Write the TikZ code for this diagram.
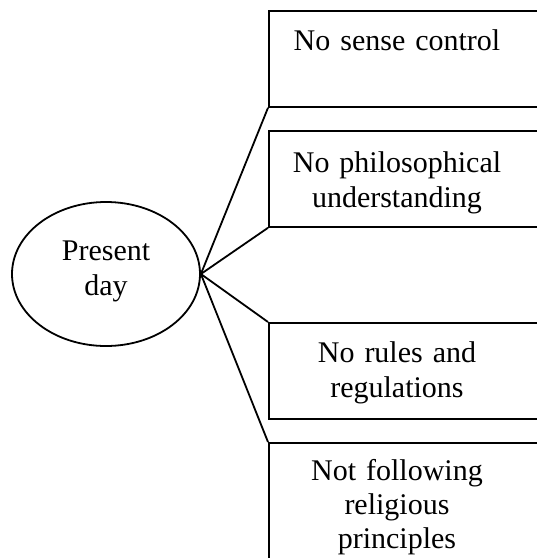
\documentclass[tikz,border=0pt]{standalone}
\usepackage{fontspec}
\setmainfont{Liberation Serif}
\usetikzlibrary{shapes.geometric}
\begin{document}
\begin{tikzpicture}[x=1pt,y=-1pt,line width=1.8pt,
  item/.style={draw,rectangle,minimum width=290pt,minimum height=96pt,
    anchor=north west,inner sep=0pt},
  txt/.style={font=\fontsize{30}{35}\selectfont,align=center,
    text width=260pt,anchor=base,inner sep=0pt}]
  \clip (0,0) rectangle (537,558);
  % central topic
  \node[draw,ellipse,minimum width=188pt,minimum height=144pt,inner sep=0pt]
    (pd) at (106,274) {};
  \node[txt] (pdt) at (106,260) {Present\\day};
  % the four boxes
  \node[item] (b1) at (268,10) {};
  \node[item] (b2) at (268,130) {};
  \node[item] (b3) at (268,322) {};
  \node[item,minimum height=140pt] (b4) at (268,442) {};
  \node[txt] (t1) at (397,50) {No sense control};
  \node[txt] (t2) at (397,172) {No philosophical\\understanding};
  \node[txt] (t3) at (397,362) {No rules and\\regulations};
  \node[txt,font=\fontsize{30}{34}\selectfont] (t4) at (397,480)
    {Not following\\religious\\principles};
  % connectors
  \draw (pd.east) -- (b1.south west);
  \draw (pd.east) -- (b2.south west);
  \draw (pd.east) -- (b3.north west);
  \draw (pd.east) -- (b4.north west);
\end{tikzpicture}
\end{document}
